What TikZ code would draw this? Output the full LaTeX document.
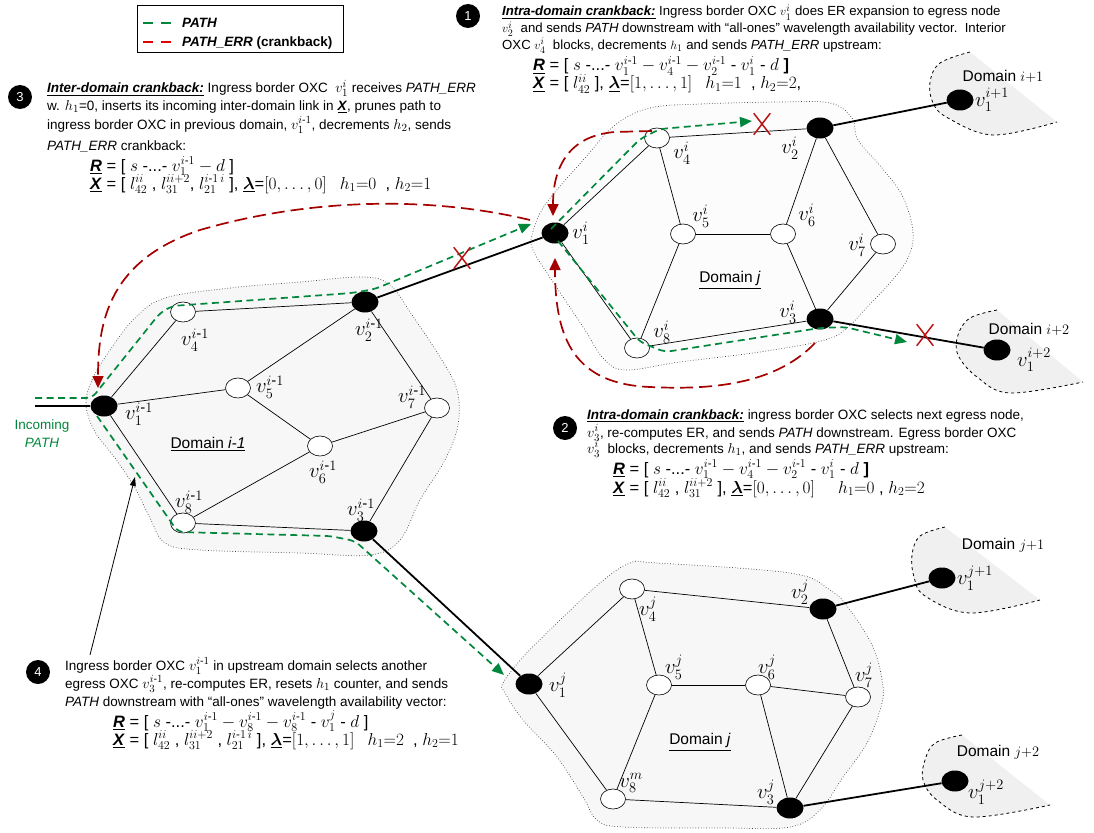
\documentclass[tikz,border=0pt]{standalone}
\usepackage{amsmath}
\usepackage{fontspec}
\setmainfont{Liberation Sans}
\usetikzlibrary{shapes.geometric,shapes.misc,arrows.meta}
\DeclareMathSizes{13.5}{13.5}{10.5}{8}
\DeclareMathSizes{13.2}{13.2}{10.3}{8}
\DeclareMathSizes{16.5}{16.5}{11.5}{9}
\DeclareMathSizes{20}{20}{15}{12}
\DeclareMathSizes{15.5}{15.5}{11.5}{9}
\definecolor{pgreen}{RGB}{0,135,60}
\definecolor{pred}{RGB}{165,0,0}
\definecolor{xred}{RGB}{185,20,20}
\definecolor{extfill}{gray}{0.94}
\newcommand\mi{\text{-}}
\newcommand\hd[1]{\underline{\textbf{\textit{#1}}}}
\newcommand\lam{$\underline{\boldsymbol{\lambda}}$}
\begin{document}
\begin{tikzpicture}[x=1pt,y=-1pt,
  onode/.style={ellipse,draw,fill=white,line width=0.6pt,minimum width=25pt,minimum height=20pt,inner sep=0pt},
  bnode/.style={ellipse,fill=black,minimum width=27pt,minimum height=21pt,inner sep=0pt},
  edge/.style={line width=0.7pt},
  link/.style={line width=1.8pt},
  lab/.style={inner sep=0pt,font=\fontsize{20}{20}\selectfont},
  dom/.style={draw=black!75,dotted,fill=black!3,line width=0.7pt},
  extb/.style={draw=black,dashed,line width=0.8pt},
  dlab/.style={inner sep=0pt,font=\fontsize{15.5}{16}\selectfont},
  gpath/.style={draw=pgreen,line width=1.7pt,dash pattern=on 7pt off 4.5pt,rounded corners=6pt},
  rpath/.style={draw=pred,line width=1.7pt,dash pattern=on 13pt off 6pt},
  gtip/.style={-{Triangle[length=12pt,width=10pt]}},
  rtip/.style={-{Triangle[length=12pt,width=11pt]}},
  xm/.style={cross out,draw=xred,line width=1.5pt,minimum width=15pt,minimum height=20pt,inner sep=0pt},
  num/.style={circle,fill=black,text=white,minimum size=24pt,inner sep=0pt,font=\fontsize{13}{13}\selectfont},
  txt/.style={anchor=base west,inner sep=0pt,font=\fontsize{13.5}{16}\selectfont},
  fml/.style={anchor=base west,inner sep=0pt,font=\fontsize{16.5}{18}\selectfont}
]
\useasboundingbox (0,0) rectangle (1094,832);

% ---------- domain regions ----------
\draw[dom] plot[smooth cycle,tension=0.6] coordinates {(86,405) (92,380) (110,350) (135,318) (165,298) (230,288) (300,282) (363,277) (390,285) (412,315) (440,357) (457,390) (458,425) (445,460) (420,500) (400,540) (370,555) (300,553) (200,550) (165,543) (150,518) (135,488) (115,458) (95,432)};
\draw[dom,fill=black!1] plot[smooth cycle,tension=0.6] coordinates {(532,235) (545,205) (585,158) (615,125) (650,108) (700,104) (780,102) (830,103) (852,118) (858,140) (882,168) (903,197) (913,232) (908,258) (890,283) (868,306) (848,327) (825,340) (760,352) (680,362) (625,370) (603,358) (585,330) (565,300) (545,270) (533,250)};
\draw[dom] plot[smooth cycle,tension=0.6] coordinates {(503,683) (523,657) (557,623) (600,583) (630,563) (657,563) (790,573) (830,590) (850,610) (873,647) (882,680) (882,703) (867,743) (843,777) (820,810) (790,827) (723,828) (623,827) (597,820) (583,797) (557,757) (523,720) (505,693)};

% external domains
\fill[extfill] plot[smooth,tension=0.6] coordinates {(970,52) (940,63) (930,82) (933,103) (948,118) (993,135) (1057,122)} -- cycle;
\draw[extb] plot[smooth,tension=0.6] coordinates {(970,52) (940,63) (930,82) (933,103) (948,118) (993,135) (1057,122)};
\fill[extfill] plot[smooth,tension=0.6] coordinates {(997,310) (970,318) (958,335) (958,355) (977,377) (1010,393) (1083,382)} -- cycle;
\draw[extb] plot[smooth,tension=0.6] coordinates {(997,310) (970,318) (958,335) (958,355) (977,377) (1010,393) (1083,382)};
\fill[extfill] plot[smooth,tension=0.6] coordinates {(945,527) (920,536) (912,555) (914,577) (925,596) (970,613) (1040,600)} -- cycle;
\draw[extb] plot[smooth,tension=0.6] coordinates {(945,527) (920,536) (912,555) (914,577) (925,596) (970,613) (1040,600)};
\fill[extfill] plot[smooth,tension=0.6] coordinates {(962,735) (935,743) (925,760) (923,780) (937,800) (973,817) (1050,805)} -- cycle;
\draw[extb] plot[smooth,tension=0.6] coordinates {(962,735) (935,743) (925,760) (923,780) (937,800) (973,817) (1050,805)};

% ---------- nodes ----------
% domain i-1
\node[bnode] (a1) at (104,406) {};
\node[onode] (a4) at (183,312) {};
\node[bnode] (a2) at (365,302) {};
\node[onode] (a5) at (238,388) {};
\node[onode] (a7) at (437,408) {};
\node[onode] (a6) at (320,446) {};
\node[onode] (a8) at (183,523) {};
\node[bnode] (a3) at (364,531) {};
% domain j (upper)
\node[bnode] (b1) at (555,233) {};
\node[onode] (b4) at (657,138) {};
\node[bnode] (b2) at (820,128) {};
\node[onode] (b5) at (683,234) {};
\node[onode] (b6) at (783,234) {};
\node[onode] (b7) at (883,244) {};
\node[onode] (b8) at (637,348) {};
\node[bnode] (b3) at (820,319) {};
% domain j (lower)
\node[bnode] (c1) at (529,684) {};
\node[onode] (c4) at (632,589) {};
\node[bnode] (c2) at (823,609) {};
\node[onode] (c5) at (659,685) {};
\node[onode] (c6) at (758,685) {};
\node[onode] (c7) at (858,697) {};
\node[onode] (c8) at (613,799) {};
\node[bnode] (c3) at (790,808) {};
% external
\node[bnode] (e1) at (960,100) {};
\node[bnode] (e2) at (997,350) {};
\node[bnode] (e3) at (942,578) {};
\node[bnode] (e4) at (955,781) {};
\coordinate (inc) at (35,406);

% ---------- edges ----------
\draw[edge] (a1) -- (a4); \draw[edge] (a1) -- (a5); \draw[edge] (a1) -- (a8);
\draw[edge] (a4) -- (a2); \draw[edge] (a5) -- (a2); \draw[edge] (a5) -- (a6);
\draw[edge] (a6) -- (a7); \draw[edge] (a6) -- (a8); \draw[edge] (a2) -- (a7);
\draw[edge] (a7) -- (a3); \draw[edge] (a8) -- (a3);
\draw[edge] (b1) -- (b4); \draw[edge] (b1) -- (b8); \draw[edge] (b4) -- (b2);
\draw[edge] (b4) -- (b5); \draw[edge] (b5) -- (b6); \draw[edge] (b5) -- (b8);
\draw[edge] (b2) -- (b6); \draw[edge] (b2) -- (b7); \draw[edge] (b6) -- (b3);
\draw[edge] (b7) -- (b3); \draw[edge] (b8) -- (b3);
\draw[edge] (c1) -- (c4); \draw[edge] (c1) -- (c8); \draw[edge] (c4) -- (c2);
\draw[edge] (c4) -- (c5); \draw[edge] (c5) -- (c6); \draw[edge] (c5) -- (c8);
\draw[edge] (c6) -- (c7); \draw[edge] (c6) -- (c3); \draw[edge] (c2) -- (c7);
\draw[edge] (c7) -- (c3); \draw[edge] (c8) -- (c3);
% inter-domain links
\draw[link] (inc) -- (a1);
\draw[link] (a2) -- (b1);
\draw[link] (b2) -- (e1);
\draw[link] (b3) -- (e2);
\draw[link] (a3) -- (c1);
\draw[link] (c2) -- (e3);
\draw[link] (c3) -- (e4);

% ---------- node labels ----------
\node[lab] (la1) at (139,414) {$v_1^{i\mi1}$};
\node[lab] (la4) at (195,340) {$v_4^{i\mi1}$};
\node[lab] (la2) at (369,330) {$v_2^{i\mi1}$};
\node[lab] (la5) at (270,387) {$v_5^{i\mi1}$};
\node[lab] (la7) at (412,397) {$v_7^{i\mi1}$};
\node[lab] (la6) at (323,472) {$v_6^{i\mi1}$};
\node[lab] (la8) at (189,502) {$v_8^{i\mi1}$};
\node[lab] (la3) at (361,510) {$v_3^{i\mi1}$};
\node[dlab] (da) at (208,444) {\underline{Domain \textit{i-1}}};
\node[lab] (lb1) at (581,233) {$v_1^{i}$};
\node[lab] (lb4) at (682,153) {$v_4^{i}$};
\node[lab] (lb2) at (790,148) {$v_2^{i}$};
\node[lab] (lb5) at (701,216) {$v_5^{i}$};
\node[lab] (lb6) at (807,215) {$v_6^{i}$};
\node[lab] (lb7) at (857,245) {$v_7^{i}$};
\node[lab] (lb8) at (662,332) {$v_8^{i}$};
\node[lab] (lb3) at (788,312) {$v_3^{i}$};
\node[dlab] (db) at (730,280) {\underline{Domain \textit{j}}};
\node[lab] (lc1) at (558,685) {$v_1^{j}$};
\node[lab] (lc4) at (648,609) {$v_4^{j}$};
\node[lab] (lc2) at (800,592) {$v_2^{j}$};
\node[lab] (lc5) at (674,667) {$v_5^{j}$};
\node[lab] (lc6) at (767,667) {$v_6^{j}$};
\node[lab] (lc7) at (864,675) {$v_7^{j}$};
\node[lab] (lc8) at (631,783) {$v_8^{m}$};
\node[lab] (lc3) at (766,792) {$v_3^{j}$};
\node[dlab] (dc) at (700,742) {\underline{Domain \textit{j}}};
\node[lab] (le1) at (992,100) {$v_1^{i+1}$};
\node[dlab] (de1) at (1003,76) {Domain $i{+}1$};
\node[lab] (le2) at (1034,360) {$v_1^{i+2}$};
\node[dlab] (de2) at (1029,329) {Domain $i{+}2$};
\node[lab] (le3) at (975,578) {$v_1^{j+1}$};
\node[dlab] (de3) at (1003,545) {Domain $j{+}1$};
\node[lab] (le4) at (986,792) {$v_1^{j+2}$};
\node[dlab] (de4) at (998,752) {Domain $j{+}2$};
\node[font=\fontsize{13.5}{18}\selectfont,text=pgreen,align=center,inner sep=0pt] (inct) at (42,434) {Incoming\\\textit{PATH}};

% ---------- PATH (green) ----------
\draw[gpath,gtip] (35,398) -- (92,398) -- (160,313) -- (172,306) -- (352,293) -- (375,289) -- (531,224);
\draw[gpath,gtip] (551,229) -- (640,139) -- (660,129) -- (752,121);
\draw[gpath,gtip] (558,241) -- (640,342) -- (665,352) -- (820,328) -- (845,327) -- (907,342);
\draw[gpath,gtip] (97,416) -- (178,532) -- (330,536) -- (355,541) -- (504,675);

% ---------- PATH_ERR (red) ----------
\draw[rpath,rtip] (652,131) -- (615,132) .. controls (575,135) and (553,160) .. (553,216);
\draw[rpath,rtip] (815,343) .. controls (775,385) and (710,390) .. (650,387) .. controls (575,384) and (555,340) .. (555,258);
\draw[rpath,rtip] (530,220) .. controls (430,196) and (310,198) .. (200,230) .. controls (110,260) and (98,320) .. (98,388);

% ---------- blocked links ----------
\node[xm] (xa) at (462,258) {};
\node[xm] (xb) at (762,124) {};
\node[xm] (xc) at (925,335) {};

% ---------- legend ----------
\node[draw,line width=0.8pt,minimum width=206pt,minimum height=47pt,anchor=north west,inner sep=0pt] (leg) at (137,5) {};
\coordinate (lg1) at (143,23); \coordinate (lg2) at (172,23);
\coordinate (lr1) at (143,42); \coordinate (lr2) at (172,42);
\draw[pgreen,line width=2pt,dash pattern=on 10pt off 8pt] (lg1) -- (lg2);
\draw[red!90!black,line width=2pt,dash pattern=on 10pt off 8pt] (lr1) -- (lr2);
\node[anchor=base west,inner sep=0pt,font=\fontsize{13.5}{14}\selectfont\bfseries] (legp) at (182,28) {\textit{PATH}};
\node[anchor=base west,inner sep=0pt,font=\fontsize{13.5}{14}\selectfont\bfseries] (lege) at (182,47) {\textit{PATH\_ERR} (crankback)};

% ---------- numbered notes ----------
\node[num] (n1) at (468,16) {1};
\begin{scope}[txt/.append style={font=\fontsize{13.2}{16}\selectfont}]
\node[txt] (t1a) at (502,16) {\hd{Intra-domain crankback:} Ingress border OXC $v_1^i$ does ER expansion to egress node};
\node[txt] (t1b) at (502,32.7) {$v_2^i$ \ and sends \textit{PATH} downstream with “all-ones” wavelength availability vector.\ \ Interior};
\node[txt] (t1c) at (502,49.3) {OXC $v_4^i$ \ blocks, decrements $h_1$ and sends \textit{PATH\_ERR} upstream:};
\end{scope}
\node[fml] (f1a) at (533,71) {\hd{R} = [ $s$ -...- $v_1^{i\mi1} - v_4^{i\mi1} - v_2^{i\mi1}$ - $v_1^i$ - $d$ \textbf{]}};
\node[fml] (f1b) at (533,89) {\hd{X} = [ $l_{42}^{ii}$ ], \lam=$[1,\ldots,1]$\hspace{0.8em}$h_1{=}1$\ \ , $h_2{=}2$,};

\node[num] (n3) at (20,97) {3};
\node[txt] (t3a) at (47,92.7) {\hd{Inter-domain crankback:} Ingress border OXC \ $v_1^i$ receives \textit{PATH\_ERR}};
\node[txt] (t3b) at (47,110.7) {w. $h_1$=0, inserts its incoming inter-domain link in \hd{X}, prunes path to};
\node[txt] (t3c) at (47,129) {ingress border OXC in previous domain, $v_1^{i\mi1}$, decrements $h_2$, sends};
\node[txt] (t3d) at (47,150) {\textit{PATH\_ERR} crankback:};
\node[fml] (f3a) at (90,171) {\hd{R} = [ $s$ -...- $v_1^{i\mi1} - d$ ]};
\node[fml] (f3b) at (90,189) {\hd{X} = [ $l_{42}^{ii}$ , $l_{31}^{ii+2}$, $l_{21}^{i\mi1\,i}$ ], \lam=$[0,\ldots,0]$\hspace{0.8em}$h_1{=}0$\ \ , $h_2{=}1$};

\node[num] (n2) at (565,428) {2};
\node[txt] (t2a) at (587,419) {\hd{Intra-domain crankback:} ingress border OXC selects next egress node,};
\node[txt] (t2b) at (587,437) {$v_3^i$, re-computes ER, and sends \textit{PATH} downstream. Egress border OXC};
\node[txt] (t2c) at (587,453) {$v_3^i$ \ blocks, decrements $h_1$, and sends \textit{PATH\_ERR} upstream:};
\node[fml] (f2a) at (613,474) {\hd{R} = [ $s$ -...- $v_1^{i\mi1} - v_4^{i\mi1} - v_2^{i\mi1}$ - $v_1^i$ - $d$ \textbf{]}};
\node[fml] (f2b) at (613,493) {\hd{X} = [ $l_{42}^{ii}$ , $l_{31}^{ii+2}$ ], \lam=$[0,\ldots,0]$\hspace{1.4em}$h_1{=}0$ , $h_2{=}2$};

\node[num] (n4) at (38,672) {4};
\node[txt] (t4a) at (65,670) {Ingress border OXC $v_1^{i\mi1}$ in upstream domain selects another};
\node[txt] (t4b) at (65,688) {egress OXC $v_3^{i\mi1}$, re-computes ER, resets $h_1$ counter, and sends};
\node[txt] (t4c) at (65,706) {\textit{PATH} downstream with “all-ones” wavelength availability vector:};
\node[fml] (f4a) at (113,727) {\hd{R} = [ $s$ -...- $v_1^{i\mi1} - v_8^{i\mi1} - v_8^{i\mi1}$ - $v_1^j$ - $d$ ]};
\node[fml] (f4b) at (113,745) {\hd{X} = [ $l_{42}^{ii}$ , $l_{31}^{ii+2}$ , $l_{21}^{i\mi1\,i}$ ], \lam=$[1,\ldots,1]$\hspace{0.8em}$h_1{=}2$\ \ , $h_2{=}1$};
\coordinate (p4s) at (90,655);
\coordinate (p4e) at (135,477);
\draw[line width=0.8pt,-{Triangle[length=9pt,width=6pt]}] (p4s) -- (p4e);
\end{tikzpicture}
\end{document}
